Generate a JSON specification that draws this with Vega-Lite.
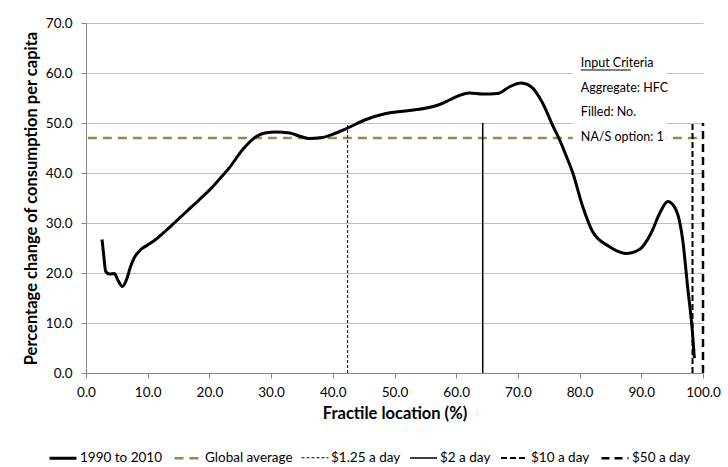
{
  "$schema": "https://vega.github.io/schema/vega-lite/v6.json",
  "width": 617,
  "height": 350,
  "autosize": {"type": "none"},
  "padding": {"left": 86, "top": 23, "right": 25, "bottom": 94},
  "background": "white",
  "config": {
    "view": {"stroke": null},
    "font": "Lato",
    "axis": {
      "labelFont": "Lato",
      "labelFontSize": 13.5,
      "labelColor": "#000000",
      "labelFlush": false,
      "labelOverlap": false,
      "titleFont": "Lato",
      "titleFontSize": 16.5,
      "titleFontWeight": "bold",
      "titleColor": "#000000",
      "domainColor": "#868686",
      "tickColor": "#868686",
      "gridColor": "#BFBFBF",
      "tickSize": 5
    },
    "legend": {
      "orient": "none",
      "legendX": -38,
      "legendY": 420,
      "direction": "horizontal",
      "symbolType": "stroke",
      "symbolSize": 729,
      "labelFont": "Lato",
      "labelFontSize": 13.5,
      "labelColor": "#000000",
      "labelOffset": 2,
      "columnPadding": 6
    }
  },
  "datasets": {
    "lines": [
      {"series": "1990 to 2010", "x": 2.6, "y": 26.7},
      {"series": "1990 to 2010", "x": 2.9, "y": 23.2},
      {"series": "1990 to 2010", "x": 3.2, "y": 20.3},
      {"series": "1990 to 2010", "x": 3.8, "y": 19.8},
      {"series": "1990 to 2010", "x": 4.6, "y": 19.9},
      {"series": "1990 to 2010", "x": 5.2, "y": 18.5},
      {"series": "1990 to 2010", "x": 5.9, "y": 17.3},
      {"series": "1990 to 2010", "x": 6.6, "y": 18.8},
      {"series": "1990 to 2010", "x": 7.2, "y": 21.2},
      {"series": "1990 to 2010", "x": 7.8, "y": 23.0},
      {"series": "1990 to 2010", "x": 8.9, "y": 24.7},
      {"series": "1990 to 2010", "x": 10.0, "y": 25.6},
      {"series": "1990 to 2010", "x": 11.3, "y": 26.7},
      {"series": "1990 to 2010", "x": 12.8, "y": 28.3},
      {"series": "1990 to 2010", "x": 14.3, "y": 30.0},
      {"series": "1990 to 2010", "x": 16.3, "y": 32.3},
      {"series": "1990 to 2010", "x": 18.4, "y": 34.7},
      {"series": "1990 to 2010", "x": 20.5, "y": 37.2},
      {"series": "1990 to 2010", "x": 22.0, "y": 39.3},
      {"series": "1990 to 2010", "x": 23.2, "y": 41.0},
      {"series": "1990 to 2010", "x": 25.4, "y": 44.7},
      {"series": "1990 to 2010", "x": 27.6, "y": 47.3},
      {"series": "1990 to 2010", "x": 29.0, "y": 48.0},
      {"series": "1990 to 2010", "x": 30.8, "y": 48.2},
      {"series": "1990 to 2010", "x": 33.0, "y": 48.0},
      {"series": "1990 to 2010", "x": 34.8, "y": 47.3},
      {"series": "1990 to 2010", "x": 36.2, "y": 46.9},
      {"series": "1990 to 2010", "x": 38.3, "y": 47.1},
      {"series": "1990 to 2010", "x": 40.5, "y": 48.0},
      {"series": "1990 to 2010", "x": 42.4, "y": 49.0},
      {"series": "1990 to 2010", "x": 45.4, "y": 50.7},
      {"series": "1990 to 2010", "x": 48.6, "y": 51.9},
      {"series": "1990 to 2010", "x": 52.4, "y": 52.5},
      {"series": "1990 to 2010", "x": 55.6, "y": 53.1},
      {"series": "1990 to 2010", "x": 57.3, "y": 53.7},
      {"series": "1990 to 2010", "x": 58.9, "y": 54.6},
      {"series": "1990 to 2010", "x": 60.5, "y": 55.5},
      {"series": "1990 to 2010", "x": 62.1, "y": 56.0},
      {"series": "1990 to 2010", "x": 64.3, "y": 55.8},
      {"series": "1990 to 2010", "x": 66.7, "y": 55.9},
      {"series": "1990 to 2010", "x": 68.6, "y": 57.2},
      {"series": "1990 to 2010", "x": 70.5, "y": 58.0},
      {"series": "1990 to 2010", "x": 72.1, "y": 57.3},
      {"series": "1990 to 2010", "x": 74.0, "y": 54.0},
      {"series": "1990 to 2010", "x": 75.6, "y": 49.6},
      {"series": "1990 to 2010", "x": 76.7, "y": 46.8},
      {"series": "1990 to 2010", "x": 77.8, "y": 43.5},
      {"series": "1990 to 2010", "x": 78.9, "y": 40.0},
      {"series": "1990 to 2010", "x": 80.5, "y": 33.3},
      {"series": "1990 to 2010", "x": 82.1, "y": 28.3},
      {"series": "1990 to 2010", "x": 84.8, "y": 25.3},
      {"series": "1990 to 2010", "x": 87.5, "y": 23.9},
      {"series": "1990 to 2010", "x": 89.7, "y": 24.7},
      {"series": "1990 to 2010", "x": 91.6, "y": 28.0},
      {"series": "1990 to 2010", "x": 93.0, "y": 32.0},
      {"series": "1990 to 2010", "x": 94.3, "y": 34.3},
      {"series": "1990 to 2010", "x": 95.6, "y": 32.7},
      {"series": "1990 to 2010", "x": 96.7, "y": 26.7},
      {"series": "1990 to 2010", "x": 97.5, "y": 17.3},
      {"series": "1990 to 2010", "x": 98.3, "y": 8.0},
      {"series": "1990 to 2010", "x": 98.6, "y": 3.0},
      {"series": "Global average", "x": 0.3, "y": 47.0},
      {"series": "Global average", "x": 100.0, "y": 47.0},
      {"series": "$1.25 a day", "x": 42.4, "y": 0},
      {"series": "$1.25 a day", "x": 42.4, "y": 50},
      {"series": "$2 a day", "x": 64.3, "y": 0},
      {"series": "$2 a day", "x": 64.3, "y": 50},
      {"series": "$10 a day", "x": 98.3, "y": 0},
      {"series": "$10 a day", "x": 98.3, "y": 50},
      {"series": "$50 a day", "x": 100.0, "y": 0},
      {"series": "$50 a day", "x": 100.0, "y": 50}
    ]
  },
  "layer": [
    {
      "data": {"name": "lines"},
      "mark": {"type": "line"},
      "encoding": {
        "x": {
          "field": "x", "type": "quantitative",
          "scale": {"domain": [0, 100], "nice": false},
          "axis": {"values": [0,10,20,30,40,50,60,70,80,90,100], "format": ".1f", "grid": false, "labelPadding": 7, "titlePadding": 7, "title": "Fractile location (%)"}
        },
        "y": {
          "field": "y", "type": "quantitative",
          "scale": {"domain": [0, 70], "nice": false},
          "axis": {"values": [0,10,20,30,40,50,60,70], "format": ".1f", "grid": true, "labelPadding": 9, "titlePadding": 6, "title": "Percentage change of  consumption per capita"}
        },
        "detail": {"field": "series"},
        "color": {
          "field": "series", "type": "nominal", "title": null,
          "scale": {"domain": ["1990 to 2010", "Global average", "$1.25 a day", "$2 a day", "$10 a day", "$50 a day"],
                    "range": ["#000000", "#948A54", "#000000", "#000000", "#000000", "#000000"]}
        },
        "strokeDash": {
          "field": "series", "type": "nominal", "title": null,
          "scale": {"domain": ["1990 to 2010", "Global average", "$1.25 a day", "$2 a day", "$10 a day", "$50 a day"],
                    "range": [[1, 0], [9, 6], [3, 2], [1, 0], [6, 3], [8, 5]]}
        },
        "strokeWidth": {
          "field": "series", "type": "nominal", "title": null,
          "scale": {"type": "ordinal", "domain": ["1990 to 2010", "Global average", "$1.25 a day", "$2 a day", "$10 a day", "$50 a day"],
                    "range": [3, 2.5, 1, 1.5, 2, 2.5]}
        }
      },
      "transform": [{"filter": "datum.series !== '1990 to 2010'"}]
    },
    {
      "data": {"name": "lines"},
      "transform": [{"filter": "datum.series === '1990 to 2010'"}],
      "mark": {"type": "line", "interpolate": "monotone", "color": "#000000", "strokeWidth": 3},
      "encoding": {
        "x": {"field": "x", "type": "quantitative"},
        "y": {"field": "y", "type": "quantitative"}
      }
    },
    {
      "data": {"values": [{"a": 1}]},
      "mark": {"type": "rect", "fill": "#FFFFFF"},
      "encoding": {
        "x": {"datum": 78.9, "type": "quantitative"},
        "x2": {"datum": 94.1},
        "y": {"datum": 64.5, "type": "quantitative"},
        "y2": {"datum": 45.6}
      }
    },
    {
      "data": {"values": [{"a": 1}]},
      "mark": {"type": "text", "align": "left", "baseline": "middle", "fontSize": 12.5, "font": "Lato", "fill": "#000000", "lineHeight": 24.8,
               "text": ["Input Criteria", "Aggregate: HFC", "Filled: No.", "NA/S option: 1"], "dy": -34.7},
      "encoding": {
        "x": {"datum": 80.2, "type": "quantitative"},
        "y": {"datum": 55.1, "type": "quantitative"}
      }
    },
    {
      "data": {"values": [{"a": 1}]},
      "mark": {"type": "rule", "stroke": "#000000", "strokeWidth": 1},
      "encoding": {
        "x": {"datum": 80.2, "type": "quantitative"},
        "x2": {"datum": 88.3},
        "y": {"datum": 60.6, "type": "quantitative"}
      }
    }
  ]
}
